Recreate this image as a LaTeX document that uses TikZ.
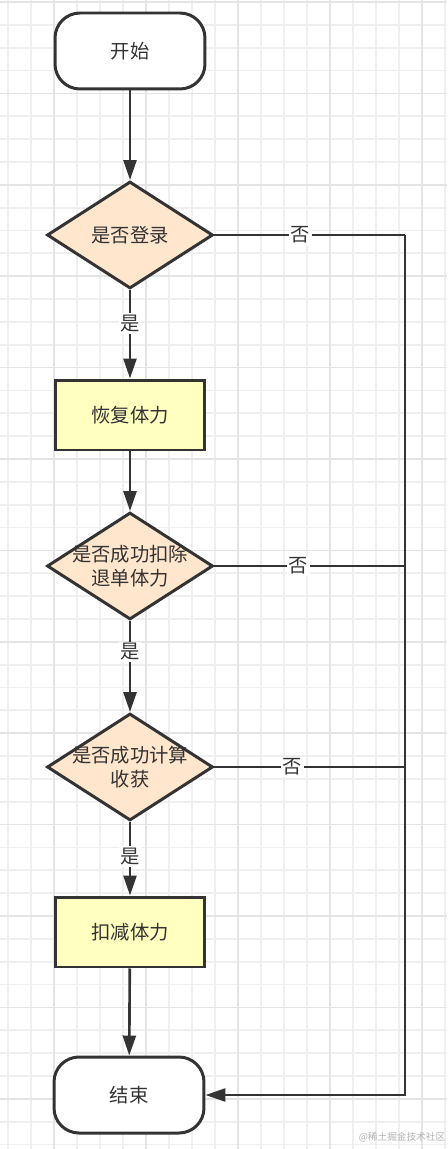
\documentclass[tikz,border=0pt]{standalone}
\usepackage{fontspec}
\setmainfont{Noto Sans CJK SC}
\usetikzlibrary{
  shapes.geometric,
  arrows.meta
}
\definecolor{ink}{HTML}{333333}
\definecolor{peach}{HTML}{FFE6CC}
\definecolor{paleyellow}{HTML}{FFFFC0}
\definecolor{gridminor}{HTML}{EFEFEF}
\definecolor{gridmajor}{HTML}{E4E4E4}

\begin{document}
\begin{tikzpicture}[
  x=0.02cm, y=-0.02cm,
  font=\fontsize{11}{13.6}\selectfont,
  text=ink,
  terminal/.style={draw=ink, line width=1.7pt, fill=white, rounded corners=0.5cm,
    minimum width=3cm, minimum height=1.52cm},
  process/.style={draw=ink, line width=1.7pt, fill=paleyellow,
    minimum width=2.98cm, minimum height=1.4cm},
  decision/.style={draw=ink, line width=1.7pt, fill=peach, diamond, inner sep=0pt,
    minimum width=3.32cm, minimum height=2.14cm},
  flow/.style={draw=ink, line width=1.5pt},
  arrow/.style={flow, -{Triangle[length=0.4cm, width=0.26cm]}},
  answer/.style={fill=white, inner sep=1pt}
]
\useasboundingbox (0,0) rectangle (447,1149);
\fill[white] (0,0) rectangle (447,1149);
% background grid
\foreach \gx in {8,31,...,446}
  \draw[gridminor, line width=1pt] (\gx,0) -- (\gx,1149);
\foreach \gy in {2,24.85,...,1148}
  \draw[gridminor, line width=1pt] (0,\gy) -- (447,\gy);
\foreach \gx in {54,146,...,446}
  \draw[gridmajor, line width=1pt] (\gx,0) -- (\gx,1149);
\foreach \gy in {2,93.4,...,1148}
  \draw[gridmajor, line width=1pt] (0,\gy) -- (447,\gy);

\node[terminal] (start) at (130,51) {开始};
\node[decision, label={center:是否登录}] (login) at (130,235) {};
\node[process] (restore) at (130,415) {恢复体力};
\node[decision, label={[align=center]center:{是否成功扣除\\退单体力}}] (refund) at (130,566) {};
\node[decision, label={[align=center]center:{是否成功计算\\收获}}] (harvest) at (130,767) {};
\node[process] (deduct) at (130,932) {扣减体力};
\node[terminal] (finish) at (129,1095) {结束};
\coordinate (rail) at (405,235);

\draw[arrow] (start) -- (login);
\draw[arrow] (login) -- node[answer, pos=.38] {是} (restore);
\draw[arrow] (restore) -- (refund);
\draw[arrow] (refund) -- node[answer, pos=.34] {是} (harvest);
\draw[arrow] (harvest) -- node[answer, pos=.47] {是} (deduct);
\draw[arrow] (deduct) -- (finish);

\draw[flow] (login) -- node[answer, pos=.45] {否} (rail);
\draw[flow] (refund) -- node[answer, pos=.44] {否} (refund -| rail);
\draw[flow] (harvest) -- node[answer, pos=.41] {否} (harvest -| rail);
\draw[arrow] (rail) |- (finish);

\node[text=black!30, font=\fontsize{5.5}{6}\selectfont] (watermark) at (402,1137) {@稀土掘金技术社区};
\end{tikzpicture}
\end{document}
